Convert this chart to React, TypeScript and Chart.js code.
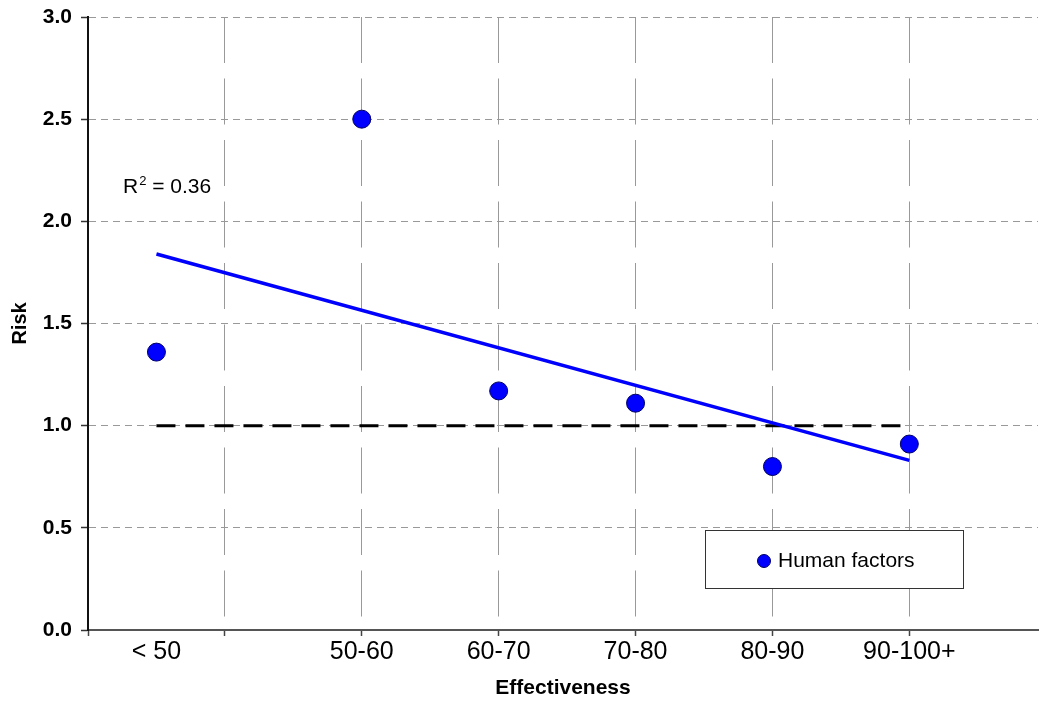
import React, { useEffect, useRef } from "react";
import { Chart, registerables } from "chart.js";

Chart.register(...registerables);

const FONT = '"Liberation Sans", Arial, Helvetica, sans-serif';

// Data
const categories = ["< 50", "50-60", "60-70", "70-80", "80-90", "90-100+"];
const positions = [0.5, 2, 3, 4, 5, 6];
const risk = [1.36, 2.5, 1.17, 1.11, 0.8, 0.91];
const trendX = [0.5, 6];
const trendY = [1.84, 0.83];
const refX = [0.5, 6];
const refY = [1.0, 1.0];
const gridX = [0, 1, 2, 3, 4, 5, 6];
const yTicks = [0, 0.5, 1, 1.5, 2, 2.5, 3];
const R2 = "0.36";
const seriesName = "Human factors";

const BLUE = "#0000FF";
const NAVY = "#000066";

const annotPlugin = {
  id: "annot",
  afterDatasetsDraw(chart: any) {
    const ctx = chart.ctx as CanvasRenderingContext2D;
    ctx.save();
    // R² label
    ctx.fillStyle = "#000";
    ctx.textAlign = "left";
    ctx.textBaseline = "alphabetic";
    ctx.font = `21px ${FONT}`;
    let x = 123;
    const y = 193;
    ctx.fillText("R", x, y);
    x += ctx.measureText("R").width;
    ctx.font = `13px ${FONT}`;
    ctx.fillText("2", x + 1, y - 8);
    x += ctx.measureText("2").width + 1;
    ctx.font = `21px ${FONT}`;
    ctx.fillText(" = " + R2, x, y);

    // Legend box
    ctx.fillStyle = "#fff";
    ctx.fillRect(705.5, 530.5, 258, 58);
    ctx.strokeStyle = "#333";
    ctx.lineWidth = 1;
    ctx.strokeRect(705.5, 530.5, 258, 58);
    ctx.beginPath();
    ctx.arc(764, 561, 6.5, 0, Math.PI * 2);
    ctx.fillStyle = BLUE;
    ctx.fill();
    ctx.strokeStyle = NAVY;
    ctx.stroke();
    ctx.fillStyle = "#000";
    ctx.textBaseline = "middle";
    ctx.font = `21px ${FONT}`;
    ctx.fillText(chart.data.datasets[0].label, 778, 561);
    ctx.restore();
  },
};

export default function App() {
  const ref = useRef<HTMLCanvasElement | null>(null);

  useEffect(() => {
    if (!ref.current) return;
    Chart.defaults.font.family = FONT;
    const chart = new Chart(ref.current, {
      type: "scatter",
      data: {
        datasets: [
          {
            label: seriesName,
            data: positions.map((p, i) => ({ x: p, y: risk[i] })),
            backgroundColor: BLUE,
            borderColor: NAVY,
            borderWidth: 1,
            pointRadius: 9,
            showLine: false,
          },
          {
            label: "trend",
            data: trendX.map((p, i) => ({ x: p, y: trendY[i] })),
            showLine: true,
            borderColor: BLUE,
            borderWidth: 3.5,
            pointRadius: 0,
          },
          {
            label: "ref",
            data: refX.map((p, i) => ({ x: p, y: refY[i] })),
            showLine: true,
            borderColor: "#000",
            borderWidth: 3,
            borderDash: [19, 10],
            pointRadius: 0,
          },
        ],
      },
      options: {
        animation: false,
        responsive: false,
        layout: { autoPadding: false, padding: { top: 17, right: 1, left: 0, bottom: 0 } },
        plugins: {
          legend: { display: false },
          tooltip: { enabled: false },
        },
        scales: {
          x: {
            type: "linear",
            min: 0,
            max: 6.94,
            afterBuildTicks: (scale: any) => {
              const vals = Array.from(new Set([...gridX, ...positions])).sort(
                (a, b) => a - b
              );
              scale.ticks = vals.map((v) => ({ value: v }));
            },
            afterFit: (scale: any) => {
              scale.height = 71;
              scale.paddingRight = 0;
              scale.paddingLeft = 0;
            },
            ticks: {
              autoSkip: false,
              maxRotation: 0,
              minRotation: 0,
              padding: 1,
              color: "#000",
              font: { size: 25 },
              callback: (v: any) => {
                const i = positions.indexOf(Number(v));
                return i >= 0 ? categories[i] : "";
              },
            },
            grid: {
              color: (c: any) =>
                gridX.includes(c.tick?.value) ? "#999" : "rgba(0,0,0,0)",
              tickColor: (c: any) =>
                gridX.includes(c.tick?.value) ? "#444" : "rgba(0,0,0,0)",
              lineWidth: 1,
              tickLength: 6,
              tickWidth: 1.5,
            },
            border: { color: "#555", width: 2, dash: [46, 15.5] },
            title: {
              display: true,
              text: "Effectiveness",
              color: "#000",
              font: { size: 21, weight: "bold" },
              padding: { top: 0, bottom: 0 },
            },
          },
          y: {
            min: 0,
            max: 3,
            afterBuildTicks: (scale: any) => {
              scale.ticks = yTicks.map((v) => ({ value: v }));
            },
            afterFit: (scale: any) => {
              scale.width = 88;
              scale.paddingTop = 0;
              scale.paddingBottom = 0;
            },
            ticks: {
              padding: 9,
              color: "#000",
              font: { size: 21, weight: "bold" },
              callback: (v: any) => Number(v).toFixed(1),
            },
            grid: {
              color: "#999",
              lineWidth: 1,
              tickLength: 7,
              tickColor: "#333",
              tickWidth: 1.5,
            },
            border: { color: "#111", width: 2, dash: [7, 5] },
            title: {
              display: true,
              text: "Risk",
              color: "#000",
              font: { size: 20, weight: "bold" },
              padding: { top: 8, bottom: 0 },
            },
          },
        },
      },
      plugins: [annotPlugin],
    } as any);
    return () => chart.destroy();
  }, []);

  return (
    <div style={{ position: "absolute", left: 0, top: 0, width: 1039, height: 701, background: "#fff" }}>
      <canvas ref={ref} width={1039} height={701} style={{ display: "block" }} />
    </div>
  );
}
